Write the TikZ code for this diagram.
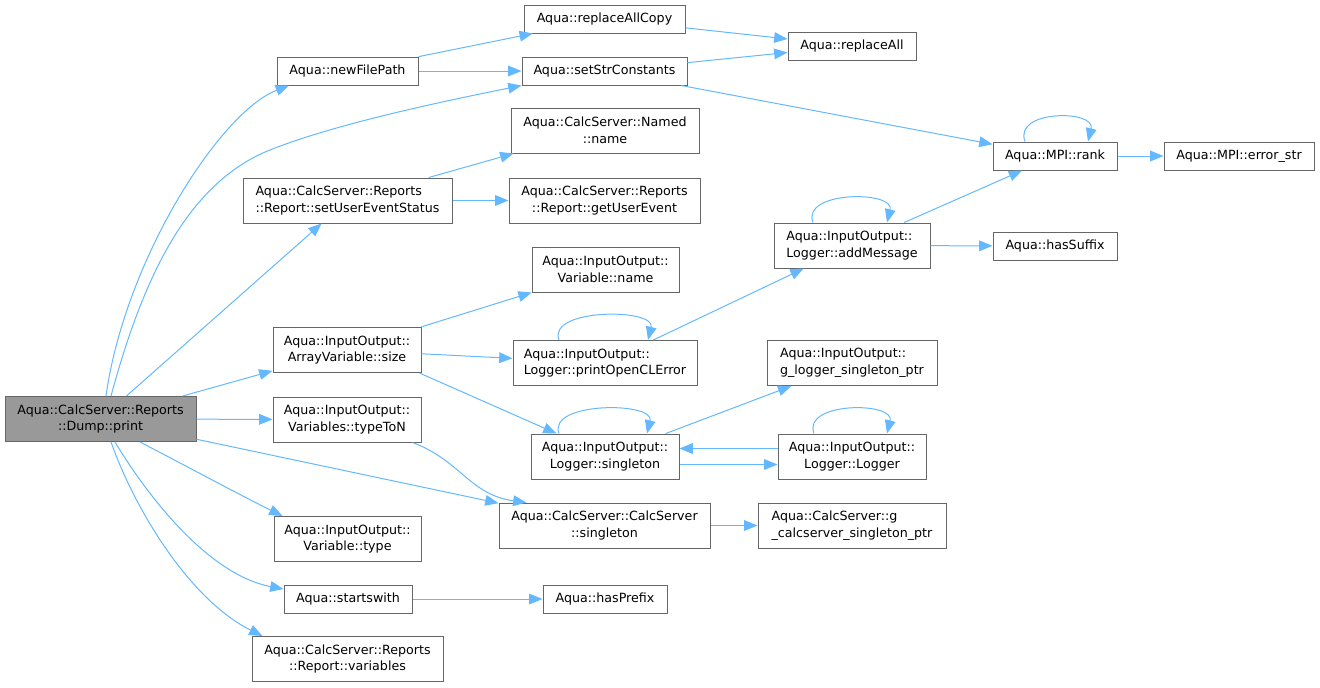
\documentclass[tikz,border=0pt]{standalone}
\usepackage{fontspec}
\setmainfont{DejaVu Sans}
\usepackage{xcolor}
\usepackage{tikz}
\usetikzlibrary{arrows.meta}
\usetikzlibrary{calc}
\usetikzlibrary{positioning}

\definecolor{flechaazul}{HTML}{63B8FF}
\definecolor{bordegris}{HTML}{666666}
\definecolor{rellenogris}{HTML}{999999}
\newcommand{\fuente}{\fontsize{9.5}{12.5}\selectfont}

\tikzset{
  caja/.style={draw=bordegris, line width=0.75pt, rectangle, inner sep=0pt, font=\fuente, align=center},
  raiz/.style={fill=rellenogris},
  izq/.style={align=left},
  ancho/.style={minimum width=#1*0.75pt},
  una/.style={minimum height=28*0.75pt},
  dos/.style={minimum height=45*0.75pt},
  flecha/.style={draw=flechaazul, line width=0.75pt, -{Triangle[length=10pt,width=8pt]}}
}

\begin{document}
\begin{tikzpicture}[x=0.75pt, y=-0.75pt]
  \useasboundingbox (0,0) rectangle (1320,687);

  % Nodo raiz
  \node[caja, raiz, ancho=191, dos] (print) at (100.5,419) {Aqua::CalcServer::Reports\\::Dump::print};

  % Primer nivel
  \node[caja, ancho=141, una] (newpath) at (347.5,71) {Aqua::newFilePath};
  \node[caja, izq, ancho=209, dos] (setuser) at (347.5,200.5) {Aqua::CalcServer::Reports\\::Report::setUserEventStatus};
  \node[caja, ancho=148, dos] (size) at (347,350) {Aqua::InputOutput::\\ArrayVariable::size};
  \node[caja, ancho=148, dos] (typeton) at (347,419.5) {Aqua::InputOutput::\\Variables::typeToN};
  \node[caja, ancho=147, dos] (vtype) at (347.5,539) {Aqua::InputOutput::\\Variable::type};
  \node[caja, ancho=128, una] (starts) at (348,599) {Aqua::startswith};
  \node[caja, ancho=191, dos] (reportvars) at (347.5,659) {Aqua::CalcServer::Reports\\::Report::variables};

  % Segundo nivel
  \node[caja, ancho=161, una] (replcopy) at (604.5,19) {Aqua::replaceAllCopy};
  \node[caja, ancho=165, una] (setstr) at (604.5,71) {Aqua::setStrConstants};
  \node[caja, ancho=188, dos] (named) at (605,130.5) {Aqua::CalcServer::Named\\::name};
  \node[caja, ancho=191, dos] (getuser) at (604.5,200.5) {Aqua::CalcServer::Reports\\::Report::getUserEvent};
  \node[caja, ancho=147, dos] (varname) at (605.5,269.5) {Aqua::InputOutput::\\Variable::name};
  \node[caja, izq, ancho=184, dos] (printcl) at (605,363) {Aqua::InputOutput::\\Logger::printOpenCLError};
  \node[caja, ancho=148, dos] (lsingle) at (605,456.5) {Aqua::InputOutput::\\Logger::singleton};
  \node[caja, ancho=211, dos] (csingle) at (604.5,525.5) {Aqua::CalcServer::CalcServer\\::singleton};
  \node[caja, ancho=124, una] (prefix) at (605,599) {Aqua::hasPrefix};

  % Tercer nivel
  \node[caja, ancho=128, una] (replall) at (852,46) {Aqua::replaceAll};
  \node[caja, izq, ancho=156, dos] (addmsg) at (852,245.5) {Aqua::InputOutput::\\Logger::addMessage};
  \node[caja, izq, ancho=170, dos] (glogger) at (852,363) {Aqua::InputOutput::\\g\_logger\_singleton\_ptr};
  \node[caja, ancho=148, dos] (logger) at (852,456.5) {Aqua::InputOutput::\\Logger::Logger};
  \node[caja, izq, ancho=188, dos] (gcalc) at (852,525.5) {Aqua::CalcServer::g\\\_calcserver\_singleton\_ptr};

  % Cuarto y quinto nivel
  \node[caja, ancho=124, una] (rank) at (1055,156) {Aqua::MPI::rank};
  \node[caja, ancho=124, una] (suffix) at (1055,246) {Aqua::hasSuffix};
  \node[caja, ancho=150, una] (errstr) at (1239,156) {Aqua::MPI::error\_str};

  % Conexiones desde el nodo raiz
  \draw[flecha] ($(print.north)+(5.5,0)$) .. controls (125,260) and (220,112) .. ($(newpath.south)+(-58.5,0)$);
  \draw[flecha] ($(print.north)+(10.5,0)$) .. controls (145,270) and (190,185) .. (265,152) .. controls (330,125) and (440,102) .. (setstr.south west);
  \draw[flecha] (print) -- (setuser);
  \draw[flecha] (print) -- (size);
  \draw[flecha] (print) -- (typeton);
  \draw[flecha] (print) -- (csingle);
  \draw[flecha] ($(print.south)+(39.5,0)$) .. controls (190,468) and (240,495) .. ($(vtype.north west)+(9,0)$);
  \draw[flecha] ($(print.south)+(14.5,0)$) .. controls (150,500) and (210,575) .. ($(starts.west)+(0,-10)$);
  \draw[flecha] ($(print.south)+(10.5,0)$) .. controls (135,510) and (190,600) .. ($(reportvars.north west)+(11,0)$);

  % Conexiones de arriba
  \draw[flecha] (newpath) -- (replcopy);
  \draw[flecha] (newpath) -- (setstr);
  \draw[flecha] (replcopy) -- (replall);
  \draw[flecha] (setstr) -- (replall);
  \draw[flecha] (setstr) -- (rank);
  \draw[flecha] (setuser) -- ($(named.south west)+(3,0)$);
  \draw[flecha] (setuser) -- (getuser);
  \draw[flecha] (rank) -- (errstr);
  \draw[flecha] (addmsg) -- (rank);
  \draw[flecha] (addmsg) -- (suffix);

  % Conexiones del medio
  \draw[flecha] (size) -- (varname);
  \draw[flecha] (size) -- (printcl);
  \draw[flecha] ($(size.south east)+(-2,0)$) -- ($(lsingle.north west)+(26,0)$);
  \draw[flecha] (printcl) -- (addmsg);
  \draw[flecha] (lsingle) -- (glogger);
  \draw[flecha] ($(lsingle.east)+(0,8)$) -- ($(logger.west)+(0,8)$);
  \draw[flecha] ($(logger.west)+(0,-8)$) -- ($(lsingle.east)+(0,-8)$);
  \draw[flecha] ($(typeton.south east)+(-9,0)$) .. controls (460,460) and (470,495) .. ($(csingle.north west)+(28,0)$);
  \draw[flecha] (csingle) -- (gcalc);
  \draw[flecha] (starts) -- (prefix);

  % Llamadas recursivas
  \draw[flecha] ($(rank.north)+(-30,0)$) .. controls +(-12,-32) and +(8,-32) .. ($(rank.north)+(33,0)$);
  \draw[flecha] ($(addmsg.north)+(-39,0)$) .. controls +(-12,-32) and +(8,-32) .. ($(addmsg.north)+(35,0)$);
  \draw[flecha] ($(printcl.north)+(-46,0)$) .. controls +(-12,-32) and +(8,-32) .. ($(printcl.north)+(43,0)$);
  \draw[flecha] ($(lsingle.north)+(-46,0)$) .. controls +(-12,-32) and +(8,-32) .. ($(lsingle.north)+(42,0)$);
  \draw[flecha] ($(logger.north)+(-38,0)$) .. controls +(-12,-32) and +(8,-32) .. ($(logger.north)+(35,0)$);
\end{tikzpicture}
\end{document}
